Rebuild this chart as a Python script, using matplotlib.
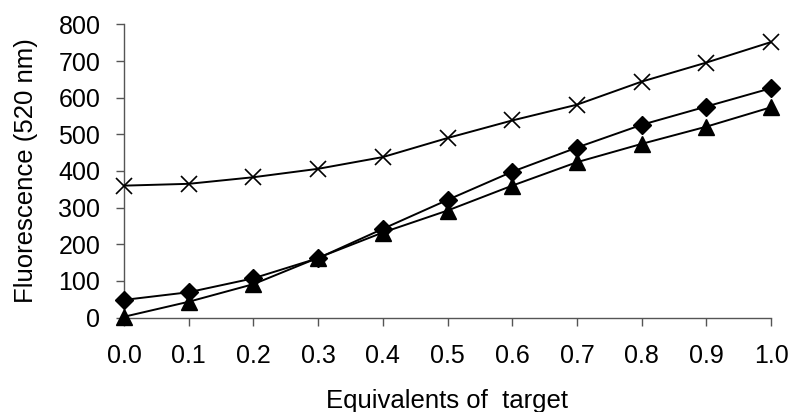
import matplotlib
matplotlib.use("Agg")
import matplotlib.pyplot as plt

plt.rcParams["font.family"] = ["Liberation Sans", "DejaVu Sans"]

# target equivalents and fluorescence readings (520 nm)
equiv = [0.0, 0.1, 0.2, 0.3, 0.4, 0.5, 0.6, 0.7, 0.8, 0.9, 1.0]
cross_vals = [360, 365, 383, 406, 438, 490, 538, 581, 644, 696, 752]
diamond_vals = [48, 69, 107, 162, 242, 321, 398, 464, 526, 576, 626]
triangle_vals = [2, 43, 91, 163, 232, 292, 360, 424, 474, 521, 574]

x_ticks = [0.0, 0.1, 0.2, 0.3, 0.4, 0.5, 0.6, 0.7, 0.8, 0.9, 1.0]
y_ticks = [0, 100, 200, 300, 400, 500, 600, 700, 800]

fig = plt.figure(figsize=(7.91, 4.12), dpi=100)
ax = fig.add_axes([124 / 791, 94.5 / 412, 647 / 791, 293 / 412])

ax.plot(equiv, cross_vals, color="black", lw=1.4, marker="x", ms=11,
        mew=1.2, clip_on=False, zorder=3)
ax.plot(equiv, diamond_vals, color="black", lw=1.4, marker="D", ms=9,
        clip_on=False, zorder=3)
ax.plot(equiv, triangle_vals, color="black", lw=1.4, marker="^", ms=11,
        clip_on=False, zorder=3)

ax.set_xlim(0, 1.0)
ax.set_ylim(0, 800)
ax.set_xticks(x_ticks)
ax.set_xticklabels([f"{v:.1f}" for v in x_ticks])
ax.set_yticks(y_ticks)

for side in ("top", "right"):
    ax.spines[side].set_visible(False)
for side in ("left", "bottom"):
    ax.spines[side].set_color("#555555")
    ax.spines[side].set_linewidth(1.0)

ax.tick_params(axis="both", direction="out", length=6, width=1.0,
               color="#555555", labelsize=18)
ax.tick_params(axis="x", pad=13)
ax.tick_params(axis="y", pad=11)

ax.set_xlabel("Equivalents of  target", fontsize=18.5, labelpad=15)
ax.set_ylabel("Fluorescence (520 nm)", fontsize=18.5, labelpad=15)

fig.savefig("out.png", dpi=100)
